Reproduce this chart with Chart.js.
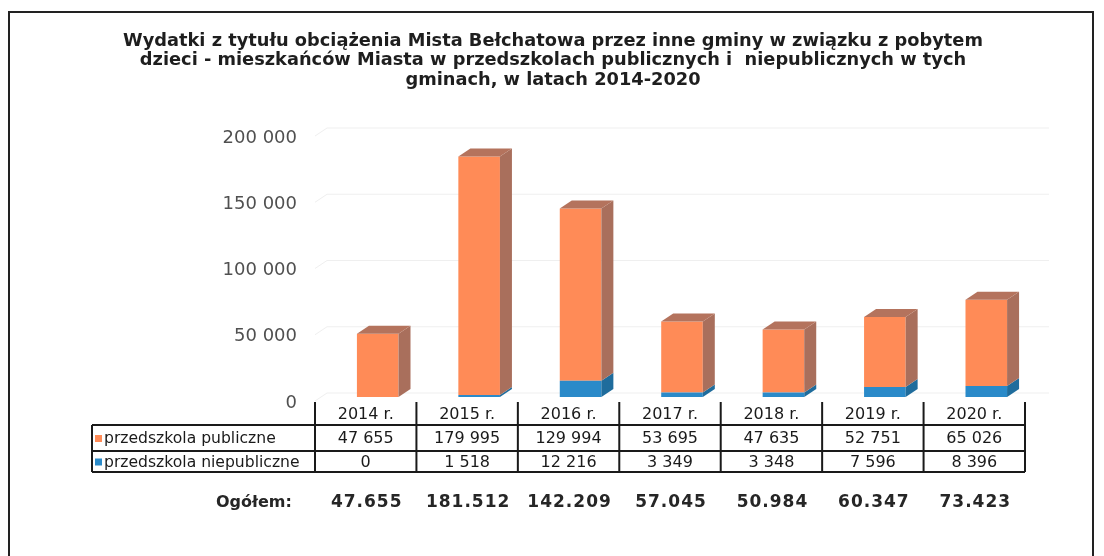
<!DOCTYPE html>
<html>
<head>
<meta charset="utf-8">
<script src="https://cdn.jsdelivr.net/npm/chart.js@4/dist/chart.umd.min.js"></script>
<style>
  html, body { margin: 0; padding: 0; background: #fff; }
  #wrap { width: 1104px; height: 556px; }
</style>
</head>
<body>
<div id="wrap"><canvas id="chart" width="1104" height="556"></canvas></div>
<script>
// Data
const years = ['2014 r.', '2015 r.', '2016 r.', '2017 r.', '2018 r.', '2019 r.', '2020 r.'];
const publiczne = [47655, 179995, 129994, 53695, 47635, 52751, 65026];
const niepubliczne = [0, 1518, 12216, 3349, 3348, 7596, 8396];
const totals = ['47.655', '181.512', '142.209', '57.045', '50.984', '60.347', '73.423'];
const yTicks = [0, 50000, 100000, 150000, 200000];
const seriesNames = ['przedszkola publiczne', 'przedszkola niepubliczne'];
const titleLines = [
    'Wydatki z tytułu obciążenia Mista Bełchatowa przez inne gminy w związku z pobytem',
    'dzieci - mieszkańców Miasta w przedszkolach publicznych i  niepublicznych w tych',
    'gminach, w latach 2014-2020'
];

const DX = 12, DY = 8; // 3d depth
const ORANGE = '#ff8b57', ORANGE_SIDE = '#a96f5c', ORANGE_TOP = '#b4735d';
const BLUE = '#2a8ac9', BLUE_SIDE = '#1f6c9c';
const FONT = '"DejaVu Sans", Verdana, sans-serif';

function fmt(n) {
    return String(n).replace(/\B(?=(\d{3})+(?!\d))/g, ' ');
}

const deco = {
    id: 'deco',
    beforeDraw(chart) {
        const ctx = chart.ctx;
        const ys = chart.scales.y, xs = chart.scales.x;
        ctx.save();
        ctx.fillStyle = '#fff';
        ctx.fillRect(0, 0, chart.width, chart.height);

        // frame
        ctx.strokeStyle = '#222';
        ctx.lineWidth = 2;
        ctx.beginPath();
        ctx.moveTo(9, 560);
        ctx.lineTo(9, 12);
        ctx.lineTo(1093, 12);
        ctx.lineTo(1093, 560);
        ctx.stroke();

        // title
        ctx.fillStyle = '#1e1e1e';
        ctx.font = 'bold 17.8px ' + FONT;
        ctx.textAlign = 'center';
        ctx.textBaseline = 'middle';
        titleLines.forEach((t, i) => ctx.fillText(t, 553, 41 + i * 19.5));

        // faint back-wall grid
        ctx.strokeStyle = '#efefef';
        ctx.lineWidth = 1;
        yTicks.forEach(v => {
            const py = ys.getPixelForValue(v);
            ctx.beginPath();
            ctx.moveTo(xs.left - DX, py + 4);
            ctx.lineTo(xs.left, py - DY + 4);
            ctx.lineTo(xs.right + DX, py - DY + 4);
            ctx.stroke();
        });

        // y labels
        ctx.fillStyle = '#505050';
        ctx.font = '18px ' + FONT;
        ctx.textAlign = 'right';
        yTicks.forEach(v => {
            ctx.fillText(fmt(v), 297, ys.getPixelForValue(v) + 6);
        });
        ctx.restore();
    },
    afterDatasetsDraw(chart) {
        const ctx = chart.ctx;
        ctx.save();
        chart.data.datasets.forEach((ds, di) => {
            const meta = chart.getDatasetMeta(di);
            meta.data.forEach(bar => {
                const p = bar.getProps(['x', 'y', 'base', 'width'], true);
                if (p.base - p.y < 0.5) return;
                const l = p.x - p.width / 2, r = p.x + p.width / 2;
                ctx.fillStyle = ds.sideColor;
                ctx.beginPath();
                ctx.moveTo(r, p.base);
                ctx.lineTo(r + DX, p.base - DY);
                ctx.lineTo(r + DX, p.y - DY);
                ctx.lineTo(r, p.y);
                ctx.closePath();
                ctx.fill();
                if (ds.topColor) {
                    ctx.fillStyle = ds.topColor;
                    ctx.beginPath();
                    ctx.moveTo(l, p.y);
                    ctx.lineTo(l + DX, p.y - DY);
                    ctx.lineTo(r + DX, p.y - DY);
                    ctx.lineTo(r, p.y);
                    ctx.closePath();
                    ctx.fill();
                }
            });
        });
        ctx.restore();
    },
    afterDraw(chart) {
        const ctx = chart.ctx;
        const xs = chart.scales.x;
        const colW = (xs.right - xs.left) / years.length;
        const tLeft = xs.left - DX;
        const tRight = tLeft + colW * years.length;
        const labelLeft = 92;
        const yHead = 402, yR1 = 425, yR2 = 451, yEnd = 472;

        ctx.save();
        ctx.strokeStyle = '#1a1a1a';
        ctx.lineWidth = 2;
        ctx.beginPath();
        for (let i = 0; i <= years.length; i++) {
            const x = tLeft + i * colW;
            ctx.moveTo(x, yHead);
            ctx.lineTo(x, yEnd);
        }
        ctx.moveTo(labelLeft, yR1); ctx.lineTo(labelLeft, yEnd);
        [yR1, yR2, yEnd].forEach(y => { ctx.moveTo(labelLeft, y); ctx.lineTo(tRight, y); });
        ctx.stroke();

        ctx.fillStyle = '#1a1a1a';
        ctx.font = '16px ' + FONT;
        ctx.textBaseline = 'middle';
        ctx.textAlign = 'center';
        years.forEach((y, i) => {
            const cx = tLeft + (i + 0.5) * colW;
            ctx.fillText(y, cx, 415);
            ctx.fillText(fmt(publiczne[i]), cx, (yR1 + yR2) / 2 + 1);
            ctx.fillText(fmt(niepubliczne[i]), cx, (yR2 + yEnd) / 2 + 1);
        });

        // legend keys in row headers
        const rows = [[ORANGE, (yR1 + yR2) / 2], [BLUE, (yR2 + yEnd) / 2]];
        ctx.font = '15.6px ' + FONT;
        rows.forEach(([c, y], i) => {
            ctx.fillStyle = c;
            ctx.fillRect(95, y - 3, 7, 7);
            ctx.fillStyle = '#1a1a1a';
            ctx.textAlign = 'left';
            ctx.fillText(seriesNames[i], 104, y + 1);
        });

        // totals
        ctx.font = 'bold 16px ' + FONT;
        ctx.fillStyle = '#262626';
        ctx.textAlign = 'left';
        ctx.fillText('Ogółem:', 216, 503);
        ctx.font = 'bold 17px ' + FONT;
        ctx.textAlign = 'center';
        ctx.letterSpacing = '1px';
        totals.forEach((t, i) => ctx.fillText(t, tLeft + (i + 0.5) * colW + 1, 503));
        ctx.restore();
    }
};

new Chart(document.getElementById('chart'), {
    type: 'bar',
    data: {
        labels: years,
        datasets: [
            { label: seriesNames[1], data: niepubliczne, backgroundColor: BLUE, sideColor: BLUE_SIDE, stack: 's' },
            { label: seriesNames[0], data: publiczne, backgroundColor: ORANGE, sideColor: ORANGE_SIDE, topColor: ORANGE_TOP, stack: 's' }
        ]
    },
    options: {
        responsive: false,
        animation: false,
        devicePixelRatio: 1,
        layout: { padding: { left: 327, right: 67, top: 132, bottom: 159 } },
        datasets: { bar: { categoryPercentage: 1, barPercentage: 0.41 } },
        scales: {
            x: { stacked: true, display: false },
            y: { stacked: true, display: false, min: 0, max: 200000 }
        },
        plugins: { legend: { display: false }, tooltip: { enabled: false }, title: { display: false } }
    },
    plugins: [deco]
});
</script>
</body>
</html>
